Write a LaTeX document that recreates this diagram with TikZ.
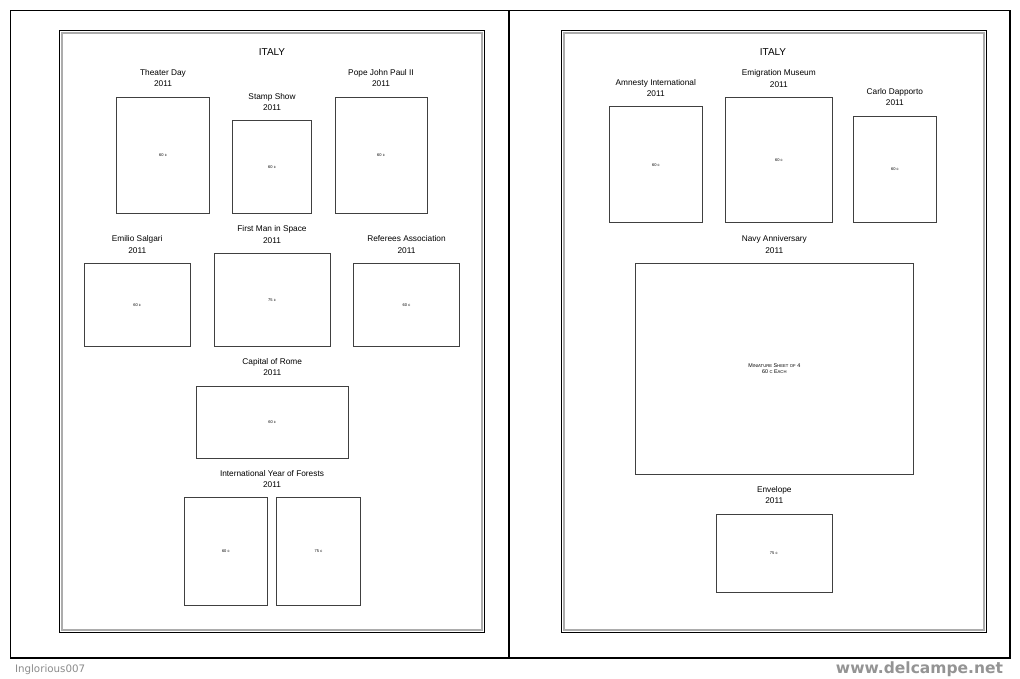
\documentclass[tikz,border=0pt]{standalone}
\usepackage{fontspec}
\setmainfont{Liberation Sans}
\newfontfamily\markfont{DejaVu Sans}
\usetikzlibrary{positioning}

\newcommand{\fakesc}[2]{#1{\fontsize{4.2}{6}\selectfont #2}}

\begin{document}
\begin{tikzpicture}[
    x=1pt, y=-1pt,
    every node/.style={align=center, inner sep=0pt, outer sep=0pt},
    stampbox/.style={draw=black!75, line width=0.8pt},
    stamplabel/.style={font=\fontsize{8.3}{11.5}\selectfont, above=10pt of #1},
    value/.style={font=\fontsize{4}{5}\selectfont}
]
    \def\issueyear{2011}

    \useasboundingbox[fill=white] (0,0) rectangle (1020,678);

    \draw[line width=1.3pt] (10.5,10.5) rectangle (1010,658);
    \draw[line width=1.3pt] (509,10.5) -- (509,658);

    \foreach \px in {59, 561}{
        \draw[line width=1pt] (\px,30.5) rectangle (\px+425,632.5);
        \draw[gray!65, line width=2pt] (\px+2.5,33) rectangle (\px+422.5,630);
    }

    \node[font=\fontsize{10}{12}\selectfont] (titleL) at (272,52) {ITALY};
    \node[font=\fontsize{10}{12}\selectfont] (titleR) at (773,52) {ITALY};

    \foreach \n/\cx/\cy/\w/\h/\val in {
        theater/163/155/93/116/60 c,
        stampshow/272/166.8/78.6/92.3/60 c,
        pope/381/155/92/116/60 c,
        salgari/137.2/304.7/105.7/82.7/60 c,
        firstman/272/299.7/116/92.7/75 c,
        referees/406.5/304.7/106.4/82.7/60 c,
        rome/272.2/422.2/152.3/72.3/60 c,
        forestA/225.8/551.4/83.7/107.3/60 c,
        forestB/318.5/551.4/83.6/107.3/75 c,
        amnesty/655.8/164.7/93/116/60 c,
        emigration/778.8/160/107/125.4/60 c,
        dapporto/894.8/169.4/83/106.7/60 c,
        envelope/774.3/553.3/116.7/78.7/75 c
    }{
        \node[stampbox, value, minimum width=\w, minimum height=\h] (\n) at (\cx,\cy) {\val};
    }

    \node[stampbox, minimum width=278.7, minimum height=211,
          font=\fontsize{5.4}{6}\selectfont] (navy) at (774.3,368.8)
        {\fakesc{M}{INIATURE} \fakesc{S}{HEET} \fakesc{}{OF} 4\\60 \fakesc{}{C} \fakesc{E}{ACH}};

    \coordinate (forests) at (272,497.7);

    \foreach \n/\txt in {
        theater/Theater Day,
        stampshow/Stamp Show,
        pope/Pope John Paul II,
        salgari/Emilio Salgari,
        firstman/First Man in Space,
        referees/Referees Association,
        rome/Capital of Rome,
        forests/International Year of Forests,
        amnesty/Amnesty International,
        emigration/Emigration Museum,
        dapporto/Carlo Dapporto,
        navy/Navy Anniversary,
        envelope/Envelope
    }{
        \node[stamplabel=\n] (\n-label) {\txt\\\issueyear};
    }

    \node[anchor=base west, font=\markfont\fontsize{10.3}{12}\selectfont, text=black!45]
        (author) at (15,672) {Inglorious007};
    \node[anchor=base east, font=\markfont\bfseries\fontsize{15.5}{18}\selectfont, text=black!42]
        (site) at (1003,673) {www.delcampe.net};
\end{tikzpicture}
\end{document}
